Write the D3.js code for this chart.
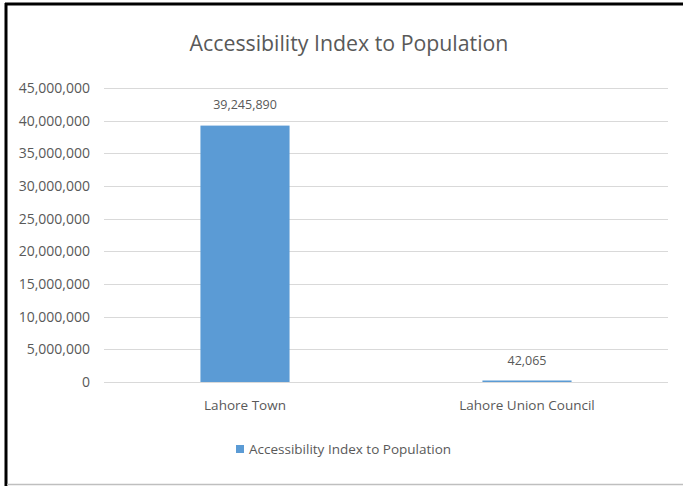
<!DOCTYPE html>
<html><head><meta charset="utf-8">
<script src="https://cdn.jsdelivr.net/npm/d3@7"></script>
<style>body{margin:0;background:#fff}svg{display:block}</style>
</head><body>
<script>
const title = "Accessibility Index to Population";
const categories = ["Lahore Town", "Lahore Union Council"];
const values = [39245890, 42065];
const valueLabels = ["39,245,890", "42,065"];
const yTicks = [0,5000000,10000000,15000000,20000000,25000000,30000000,35000000,40000000,45000000];
const seriesName = "Accessibility Index to Population";

const W = 683, H = 486;
const font = "'Open Sans',sans-serif";
const txt = "#595959";
const svg = d3.select("body").append("svg").attr("width", W).attr("height", H);
svg.append("rect").attr("width", W).attr("height", H).attr("fill", "#fff");
// frame
svg.append("line").attr("x1",6).attr("x2",6).attr("y1",3).attr("y2",H).attr("stroke","#000").attr("stroke-width",3);
svg.append("line").attr("x1",5).attr("x2",W).attr("y1",4).attr("y2",4).attr("stroke","#000").attr("stroke-width",3);
svg.append("line").attr("x1",7).attr("x2",W).attr("y1",484.5).attr("y2",484.5).attr("stroke","#bfbfbf").attr("stroke-width",1.5);

const x = d3.scaleBand().domain(categories).range([104, 668]);
const y = d3.scaleLinear().domain([0, 45000000]).range([382, 88]);

const grid = svg.append("g");
grid.selectAll("line").data(yTicks).join("line")
  .attr("x1",104).attr("x2",668)
  .attr("y1",d=>Math.round(y(d))+0.5).attr("y2",d=>Math.round(y(d))+0.5)
  .attr("stroke","#d9d9d9").attr("stroke-width",1);

const yAxis = d3.axisLeft(y).tickValues(yTicks).tickFormat(d3.format(",")).tickSize(0).tickPadding(0);
const ya = svg.append("g").attr("transform","translate(90,0)").call(yAxis);
ya.select(".domain").remove();
ya.selectAll("text").attr("fill",txt).style("font-family",font).style("font-size","14px");

const bw = x.bandwidth()*0.316;
svg.append("g").selectAll("rect").data(values).join("rect")
  .attr("x",(d,i)=>x(categories[i])+x.bandwidth()/2-bw/2)
  .attr("width",bw)
  .attr("y",d=>Math.min(y(d), y(0)-1.5))
  .attr("height",d=>Math.max(y(0)-y(d),1.5))
  .attr("fill","#5b9bd5");

svg.append("g").selectAll("text").data(values).join("text")
  .attr("x",(d,i)=>x(categories[i])+x.bandwidth()/2)
  .attr("y",d=>y(d)-17)
  .attr("text-anchor","middle").attr("fill",txt)
  .style("font-family",font).style("font-size","12.5px")
  .text((d,i)=>valueLabels[i]);

const xAxis = d3.axisBottom(x).tickSize(0).tickPadding(0);
const xa = svg.append("g").attr("transform","translate(0,400)").call(xAxis);
xa.select(".domain").remove();
xa.selectAll("text").attr("fill",txt).style("font-family",font).style("font-size","13.5px");

svg.append("text").attr("x",349).attr("y",51).attr("text-anchor","middle")
  .attr("fill",txt).style("font-family",font).style("font-size","21.3px").text(title);

const lg = svg.append("g");
lg.append("rect").attr("x",236).attr("y",445).attr("width",8).attr("height",8).attr("fill","#5b9bd5");
lg.append("text").attr("x",249).attr("y",454).attr("fill",txt)
  .style("font-family",font).style("font-size","13.5px").text(seriesName);
</script>
</body></html>
